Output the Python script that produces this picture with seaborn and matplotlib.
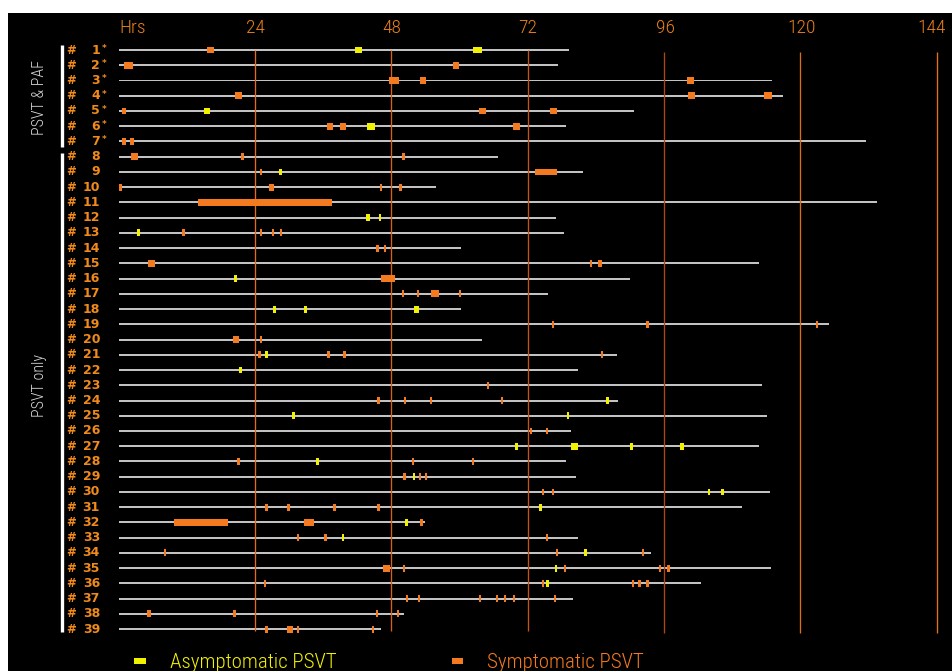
import matplotlib
matplotlib.use("Agg")
import matplotlib.pyplot as plt
import pandas as pd
import seaborn as sns

# Patients (rows) and total Holter recording length per patient, in hours
patients = [str(i) for i in range(1, 40)]
paf_patients = 7  # first rows: PSVT & PAF, the rest PSVT only
record_hours = [79.3, 77.3, 115.1, 117.0, 90.7, 78.7, 131.6, 66.8, 81.7, 55.9,
                133.6, 77.0, 78.4, 60.3, 112.8, 90.0, 75.6, 60.3, 125.0, 64.0,
                87.7, 80.8, 113.2, 87.9, 114.2, 79.6, 112.8, 78.7, 80.5, 114.6,
                109.7, 54.0, 80.8, 93.8, 114.8, 102.6, 80.0, 50.3, 46.2]

# Symptomatic PSVT episodes: patient row, episode mid-time (h), length (h)
sym_row = [1, 2, 2, 3, 3, 3, 4, 4, 4, 5, 5, 5, 6, 6, 6, 7, 7,
           8, 8, 8, 9, 9, 10, 10, 10, 10, 11, 13, 13, 13, 13, 14, 14,
           15, 15, 15, 16, 17, 17, 17, 17, 19, 19, 19, 20, 20,
           21, 21, 21, 21, 23, 24, 24, 24, 24, 26, 26, 28, 28, 28,
           29, 29, 29, 30, 30, 31, 31, 31, 31, 32, 32, 32, 33, 33, 33,
           34, 34, 34, 35, 35, 35, 35, 35, 36, 36, 36, 36, 36,
           37, 37, 37, 37, 37, 37, 37, 38, 38, 38, 38, 39, 39, 39, 39]
sym_mid = [16.2, 1.7, 59.4, 48.5, 53.6, 100.7, 21.1, 100.9, 114.3, 0.9, 64.0, 76.5,
           37.2, 39.5, 70.0, 0.9, 2.3,
           2.8, 21.8, 50.1, 25.1, 75.25, 0.3, 26.9, 46.2, 49.6, 25.75,
           11.4, 25.0, 27.2, 28.6, 45.5, 46.9,
           5.8, 83.1, 84.7, 47.45, 50.0, 52.7, 55.7, 60.1, 76.5, 93.1, 123.0,
           20.7, 25.0,
           24.8, 36.9, 39.7, 85.1, 65.0, 45.7, 50.4, 55.0, 67.5, 72.6, 75.4,
           21.1, 51.8, 62.4,
           50.3, 53.1, 54.1, 74.7, 76.5, 26.0, 29.9, 38.0, 45.7,
           14.55, 33.55, 53.3, 31.6, 36.4, 75.4,
           8.1, 77.2, 92.3, 47.1, 50.3, 78.6, 95.3, 96.8,
           25.7, 74.7, 90.5, 91.7, 93.1,
           50.8, 52.9, 63.6, 66.6, 68.0, 69.6, 76.8,
           5.3, 20.4, 45.5, 49.2, 26.0, 30.1, 31.6, 44.8]
sym_len = [1.2, 1.6, 1.2, 1.8, 1.0, 1.2, 1.2, 1.2, 1.35, 0.7, 1.2, 1.2,
           1.2, 1.2, 1.2, 0.7, 0.6,
           1.2, 0.55, 0.55, 0.4, 3.9, 0.45, 1.0, 0.4, 0.4, 23.7,
           0.4, 0.4, 0.4, 0.4, 0.55, 0.4,
           1.2, 0.4, 0.7, 2.5, 0.4, 0.5, 1.4, 0.4, 0.4, 0.4, 0.4,
           1.0, 0.4,
           0.4, 0.55, 0.55, 0.4, 0.4, 0.6, 0.4, 0.4, 0.4, 0.5, 0.5,
           0.4, 0.4, 0.4,
           0.4, 0.4, 0.4, 0.4, 0.4, 0.45, 0.45, 0.45, 0.45,
           9.5, 1.7, 0.55, 0.45, 0.45, 0.45,
           0.4, 0.45, 0.45, 1.2, 0.35, 0.45, 0.45, 0.45,
           0.4, 0.45, 0.4, 0.4, 0.4,
           0.4, 0.4, 0.4, 0.4, 0.4, 0.4, 0.4,
           0.6, 0.4, 0.45, 0.4, 0.4, 1.0, 0.45, 0.45]

# Asymptomatic PSVT episodes
asym_row = [1, 1, 5, 6, 9, 12, 12, 13, 16, 18, 18, 18, 21, 22, 24, 25, 25,
            27, 27, 27, 27, 28, 29, 30, 30, 31, 32, 33, 34, 35, 36]
asym_mid = [42.2, 63.2, 15.5, 44.4, 28.5, 43.9, 46.0, 3.5, 20.6, 27.4, 32.9, 52.5,
            26.0, 21.4, 86.1, 30.8, 79.1,
            70.1, 80.3, 90.3, 99.1, 35.0, 52.0, 103.9, 106.3, 74.3, 50.6, 39.5,
            82.2, 77.0, 75.5]
asym_len = [1.1, 1.6, 1.1, 1.3, 0.55, 0.85, 0.5, 0.5, 0.55, 0.45, 0.45, 0.9,
            0.45, 0.45, 0.45, 0.6, 0.45,
            0.5, 1.2, 0.4, 0.7, 0.45, 0.5, 0.45, 0.5, 0.5, 0.5, 0.5,
            0.5, 0.5, 0.5]

hour_marks = [24, 48, 72, 96, 120, 144]
hour_labels = ["24", "48", "72", "96", "120", "144"]
hour_label_pos = [24, 48, 72, 96.3, 120.2, 143.2]
hour_line_colors = ["#e36c1c", "#d4621a", "#c35616", "#ad4814", "#d96e18", "#e3721a"]

ORANGE = "#f47a1f"
YELLOW = "#f2f200"
LABEL_ORANGE = "#f08a1c"
THIN = ["Roboto Condensed", "Liberation Sans Narrow", "Roboto", "DejaVu Sans"]

sns.set_theme(style="dark")
plt.rcParams["font.family"] = ["DejaVu Sans"]

fig = plt.figure(figsize=(9.53, 6.71), dpi=100, facecolor="white")
ax = fig.add_axes([8 / 953, 0, 945 / 953, 658 / 671])
ax.set_facecolor("black")

# recording time lines
rec = pd.DataFrame({"patient": patients, "hours": record_hours})
sns.barplot(data=rec, x="hours", y="patient", orient="h", color="#c2c2c2",
            saturation=1, width=0.13, linewidth=0, errorbar=None, ax=ax, zorder=1)

# day boundaries
for h, c in zip(hour_marks, hour_line_colors):
    top = 0.0 if h <= 72 else 0.13
    bot = 38.1 if h <= 72 else 38.25
    ax.vlines(h, top, bot, color=c, lw=0.95, zorder=2)

# episodes
sym = pd.DataFrame({"row": sym_row, "mid": sym_mid, "len": sym_len})
asym = pd.DataFrame({"row": asym_row, "mid": asym_mid, "len": asym_len})
for df, col in ((sym, ORANGE), (asym, YELLOW)):
    ax.barh(df["row"] - 1, df["len"], left=df["mid"] - df["len"] / 2,
            height=0.45, color=col, linewidth=0, zorder=3)

# top hour scale
ax.text(2.5, -1.44, "Hrs", color="#e8801a", fontsize=14, family=THIN,
        fontweight="light", ha="center", va="center")
for x, lab in zip(hour_label_pos, hour_labels):
    ax.text(x, -1.44, lab, color="#e8801a", fontsize=14, family=THIN,
            fontweight="light", ha="center", va="center")

# patient labels
for k, p in enumerate(patients):
    ax.text(-8.3, k, "#", color=LABEL_ORANGE, fontsize=8.5, fontweight="bold",
            ha="center", va="center")
    ax.text(-3.3, k, p, color=LABEL_ORANGE, fontsize=9, fontweight="bold",
            ha="right", va="center")
    if k < paf_patients:
        ax.text(-2.9, k - 0.1, "*", color=LABEL_ORANGE, fontsize=6.5,
                fontweight="bold", ha="left", va="center")

# group brackets and titles
ax.plot([-10, -10], [-0.33, 6.36], color="white", lw=2.4, solid_capstyle="butt")
ax.plot([-10, -10], [6.76, 38.2], color="white", lw=2.4, solid_capstyle="butt")
ax.text(-13.9, 3.1, "PSVT & PAF", color="#d8d8d8", fontsize=11.5, family=THIN,
        fontweight="light", rotation=90, ha="center", va="center")
ax.text(-13.9, 22.0, "PSVT only", color="#d8d8d8", fontsize=11.5, family=THIN,
        fontweight="light", rotation=90, ha="center", va="center")

# legend
ax.barh(40.1, 2.1, left=2.7, height=0.4, color=YELLOW, linewidth=0, clip_on=False)
ax.text(9.0, 40.2, "Asymptomatic PSVT", color=YELLOW, fontsize=15, family=THIN,
        fontweight="light", ha="left", va="center", clip_on=False)
ax.barh(40.1, 1.9, left=58.7, height=0.4, color=ORANGE, linewidth=0, clip_on=False)
ax.text(64.8, 40.2, "Symptomatic PSVT", color=ORANGE, fontsize=15, family=THIN,
        fontweight="light", ha="left", va="center", clip_on=False)

ax.set_xlim(-19.5, 146.9)
ax.set_ylim(40.75, -2.43)
ax.set_xticks([])
ax.set_yticks([])
ax.set_xlabel("")
ax.set_ylabel("")
for s in ax.spines.values():
    s.set_visible(False)
ax.grid(False)

fig.savefig("out.png", dpi=100, facecolor="white")
